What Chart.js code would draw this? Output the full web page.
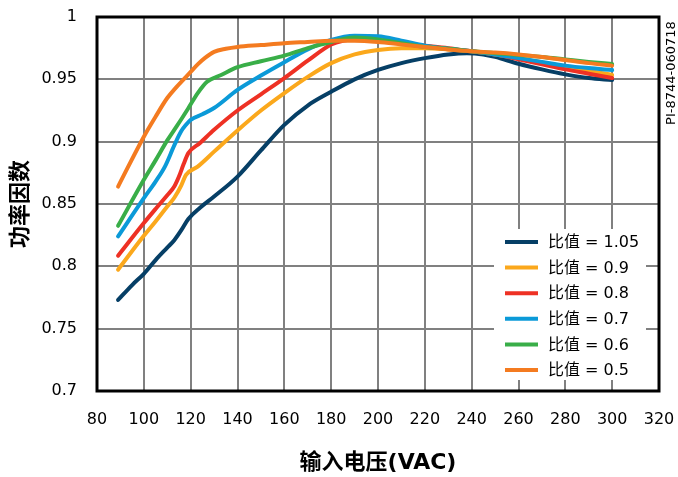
<!DOCTYPE html>
<html><head><meta charset="utf-8">
<script src="https://cdn.jsdelivr.net/npm/chart.js@4.4.1/dist/chart.umd.min.js"></script>
<style>html,body{margin:0;padding:0;background:#fff;}#wrap{width:678px;height:477px;position:relative;}</style>
</head><body><div id="wrap"><canvas id="c" width="678" height="477"></canvas></div>
<script>
// ---- data ----
const seriesLabels = ['比值 = 1.05', '比值 = 0.9', '比值 = 0.8', '比值 = 0.7', '比值 = 0.6', '比值 = 0.5'];
const seriesColors = ['#063F66', '#FBA81C', '#EE3124', '#0B9AD8', '#39AE48', '#F47B20'];

const xR105 = [89, 95, 100, 105, 110, 113, 116, 119, 124, 130, 140, 150, 160, 170, 180, 190, 200, 210, 220, 230, 238, 245, 250, 260, 270, 280, 290, 300];
const yR105 = [0.773, 0.785, 0.794, 0.805, 0.815, 0.821, 0.829, 0.838, 0.847, 0.856, 0.872, 0.893, 0.9135, 0.929, 0.940, 0.950, 0.9575, 0.963, 0.967, 0.970, 0.971, 0.970, 0.968, 0.9625, 0.958, 0.954, 0.951, 0.9495];

const xR09 = [89, 100, 105, 110, 113, 116, 118, 123, 130, 140, 150, 160, 170, 180, 190, 200, 210, 220, 230, 240, 250, 260, 270, 280, 290, 300];
const yR09 = [0.7973, 0.8245, 0.836, 0.848, 0.855, 0.865, 0.8734, 0.880, 0.892, 0.909, 0.925, 0.939, 0.952, 0.963, 0.970, 0.9736, 0.975, 0.975, 0.974, 0.9725, 0.970, 0.967, 0.9635, 0.960, 0.957, 0.9535];

const xR08 = [89, 100, 105, 110, 113, 115, 117, 119, 124, 130, 140, 150, 160, 170, 180, 185, 190, 200, 210, 220, 230, 240, 250, 260, 270, 280, 290, 300];
const yR08 = [0.8085, 0.8347, 0.846, 0.857, 0.864, 0.872, 0.882, 0.8908, 0.899, 0.9095, 0.925, 0.938, 0.951, 0.965, 0.978, 0.981, 0.982, 0.981, 0.979, 0.977, 0.975, 0.9725, 0.970, 0.966, 0.962, 0.958, 0.9545, 0.951];

const xR07 = [89, 100, 105, 109, 113, 116, 118, 120, 125, 130, 140, 150, 160, 170, 180, 190, 200, 210, 220, 230, 240, 250, 260, 270, 280, 290, 300];
const yR07 = [0.824, 0.8547, 0.868, 0.880, 0.897, 0.9085, 0.9135, 0.9175, 0.922, 0.927, 0.9415, 0.953, 0.9637, 0.974, 0.9816, 0.985, 0.9845, 0.981, 0.977, 0.9745, 0.9725, 0.970, 0.967, 0.964, 0.961, 0.959, 0.9575];

const xR06 = [89, 100, 105, 110, 113, 116, 119, 121, 123, 127, 133, 140, 150, 160, 170, 180, 190, 200, 210, 220, 230, 240, 250, 260, 270, 280, 290, 300];
const yR06 = [0.8325, 0.8694, 0.885, 0.901, 0.9095, 0.918, 0.9268, 0.933, 0.9389, 0.948, 0.9535, 0.9597, 0.9645, 0.969, 0.975, 0.980, 0.9835, 0.982, 0.979, 0.976, 0.9745, 0.9725, 0.971, 0.9695, 0.968, 0.966, 0.964, 0.9623];

const xR05 = [89, 100, 105, 110, 114, 117, 120, 123, 126, 130, 135, 140, 150, 160, 170, 180, 190, 200, 210, 220, 230, 240, 250, 260, 270, 280, 290, 300];
const yR05 = [0.864, 0.904, 0.920, 0.935, 0.944, 0.950, 0.956, 0.962, 0.967, 0.972, 0.9745, 0.976, 0.9775, 0.979, 0.980, 0.981, 0.981, 0.980, 0.978, 0.976, 0.974, 0.9725, 0.9715, 0.970, 0.968, 0.9655, 0.963, 0.961];

const xTicks = [80, 100, 120, 140, 160, 180, 200, 220, 240, 260, 280, 300, 320];
const yTicks = [0.7, 0.75, 0.8, 0.85, 0.9, 0.95, 1];
const xTitle = '输入电压(VAC)';
const yTitle = '功率因数';
const docId = 'PI-8744-060718';

// ---- build ----
const FONT = "'DejaVu Sans', 'Noto Sans CJK SC', sans-serif";
Chart.defaults.font.family = FONT;
Chart.defaults.color = '#000';

const xsAll = [xR105, xR09, xR08, xR07, xR06, xR05];
const ysAll = [yR105, yR09, yR08, yR07, yR06, yR05];
const datasets = seriesLabels.map((lab, i) => ({
  label: lab,
  data: xsAll[i].map((x, j) => ({x: x, y: ysAll[i][j]})),
  borderColor: seriesColors[i],
  backgroundColor: seriesColors[i],
  borderWidth: 4,
  pointRadius: 0,
  fill: false,
  cubicInterpolationMode: 'monotone',
  borderCapStyle: 'round',
  order: seriesLabels.length - i
}));

const framePlugin = {
  id: 'frame',
  afterDraw(chart) {
    const {ctx, chartArea: a} = chart;
    ctx.save();
    // legend box
    const boxW = 152, boxH = 151;
    const bx = a.right - 13 - boxW, by = a.bottom - 11 - boxH;
    ctx.fillStyle = '#fff';
    ctx.fillRect(bx, by, boxW, boxH);
    ctx.font = '16px ' + FONT;
    ctx.textBaseline = 'middle';
    ctx.textAlign = 'left';
    chart.data.datasets.forEach((ds, i) => {
      const y = by + 13 + i * 25.6;
      ctx.strokeStyle = ds.borderColor;
      ctx.lineWidth = 4;
      ctx.beginPath();
      ctx.moveTo(bx + 11, y);
      ctx.lineTo(bx + 44, y);
      ctx.stroke();
      ctx.fillStyle = '#000';
      ctx.fillText(ds.label, bx + 54, y + 1);
    });
    // frame
    ctx.strokeStyle = '#000';
    ctx.lineWidth = 3;
    ctx.strokeRect(a.left, a.top, a.right - a.left, a.bottom - a.top);
    // doc id
    ctx.translate(a.right + 13, a.top + 56);
    ctx.rotate(-Math.PI / 2);
    ctx.font = '13px ' + FONT;
    ctx.textAlign = 'center';
    ctx.fillStyle = '#000';
    ctx.fillText(docId, 0, 0);
    ctx.restore();
  }
};

new Chart(document.getElementById('c'), {
  type: 'line',
  data: {datasets: datasets},
  options: {
    responsive: false,
    animation: false,
    devicePixelRatio: 1,
    layout: {padding: {top: 17, right: 19, left: 0, bottom: 0}},
    plugins: {legend: {display: false}, tooltip: {enabled: false}},
    scales: {
      x: {
        type: 'linear', min: 80, max: 320,
        afterBuildTicks: s => { s.ticks = xTicks.map(v => ({value: v})); },
        afterFit: s => { s.height = 86; },
        ticks: {font: {size: 16}, color: '#000', padding: 0, maxRotation: 0, autoSkip: false, callback: v => String(v)},
        grid: {color: '#808080', lineWidth: 2, drawTicks: true, tickLength: 19, tickColor: 'rgba(0,0,0,0)'},
        border: {display: false},
        title: {display: true, text: xTitle, font: {size: 22, weight: 'bold'}, color: '#000', padding: {top: 0, bottom: 1}}
      },
      y: {
        type: 'linear', min: 0.7, max: 1,
        afterBuildTicks: s => { s.ticks = yTicks.map(v => ({value: v})); },
        afterFit: s => { s.width = 97; },
        ticks: {font: {size: 16}, color: '#000', padding: 0, autoSkip: false, callback: v => String(Math.round(v * 100) / 100)},
        grid: {color: '#808080', lineWidth: 2, drawTicks: true, tickLength: 20, tickColor: 'rgba(0,0,0,0)'},
        border: {display: false},
        title: {display: true, text: yTitle, font: {size: 22, weight: 'bold'}, color: '#000', padding: {top: 8, bottom: 0}}
      }
    }
  },
  plugins: [framePlugin]
});
</script></body></html>
